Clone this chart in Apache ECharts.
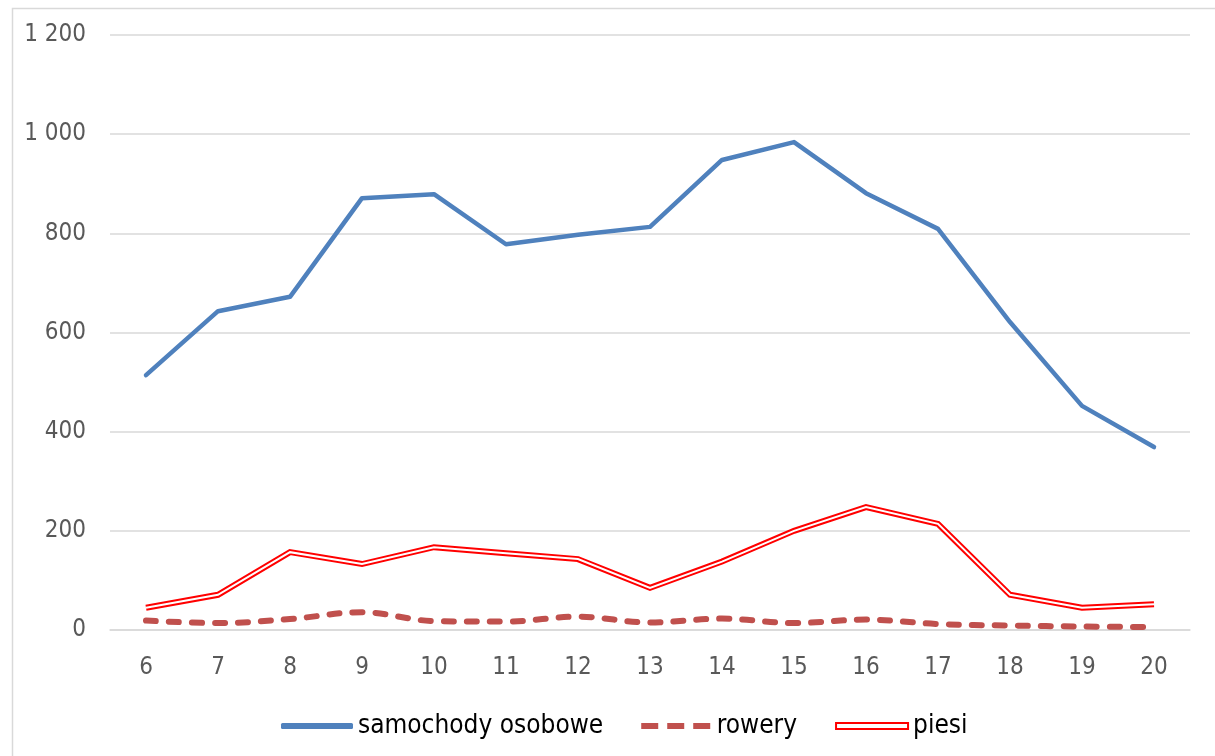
<!DOCTYPE html>
<html>
<head>
<meta charset="utf-8">
<script src="https://cdn.jsdelivr.net/npm/echarts@6/dist/echarts.min.js"></script>
<style>
html,body{margin:0;padding:0;background:#fff;}
#c{width:1215px;height:756px;}
</style>
</head>
<body>
<div id="c"></div>
<script>
const categories = ['6','7','8','9','10','11','12','13','14','15','16','17','18','19','20'];
const samochody = [514, 643, 672, 871, 879, 778, 797, 813, 948, 984, 881, 809, 621, 452, 369];
const rowery = [19, 14, 22, 36, 18, 17, 27, 15, 23, 14, 21, 12, 9, 7, 6];
const piesi = [45, 71, 157, 133, 167, 155, 143, 85, 138, 200, 248, 214, 71, 45, 52];
const yTicks = [0, 200, 400, 600, 800, 1000, 1200];

const FONT = 'DejaVu Sans Condensed';
const chart = echarts.init(document.getElementById('c'), null, {renderer: 'canvas'});
chart.setOption({
  animation: false,
  backgroundColor: '#fff',
  textStyle: {fontFamily: FONT},
  graphic: [{
    type: 'rect', left: 10, top: 6, shape: {width: 1204, height: 752},
    style: {fill: 'none', stroke: '#D9D9D9', lineWidth: 1.5}, silent: true
  }],
  grid: {left: 110, right: 25, top: 35, bottom: 126, containLabel: false},
  legend: {
    left: 276, top: 708, itemWidth: 72, itemHeight: 6, itemGap: 38,
    textStyle: {fontFamily: FONT, fontSize: 26, color: '#000'},
    data: [
      {name: 'samochody osobowe', icon: 'roundRect', itemStyle: {color: '#4F81BD'}},
      {name: 'rowery', icon: 'path://M0,0H17V6H0Z M26,0H43V6H26Z M52,0H69V6H52Z', itemStyle: {color: '#C0504D'}},
      {name: 'piesi', icon: 'rect', itemStyle: {color: '#fff', borderColor: '#FF0000', borderWidth: 2}}
    ]
  },
  xAxis: {
    type: 'category', data: categories, boundaryGap: true,
    axisLine: {lineStyle: {color: '#D9D9D9', width: 1.5}},
    axisTick: {show: false},
    axisLabel: {color: '#595959', fontSize: 24, fontFamily: FONT, margin: 26}
  },
  yAxis: {
    type: 'value', min: yTicks[0], max: yTicks[yTicks.length - 1], interval: 200,
    axisLine: {show: false}, axisTick: {show: false},
    splitLine: {lineStyle: {color: '#D9D9D9', width: 1.5}},
    axisLabel: {
      color: '#595959', fontSize: 24, fontFamily: FONT, margin: 24,
      formatter: v => String(v).replace(/\B(?=(\d{3})+(?!\d))/g, ' ')
    }
  },
  series: [
    {
      name: 'samochody osobowe', type: 'line', data: samochody, symbol: 'none',
      lineStyle: {color: '#4F81BD', width: 4.5, cap: 'round', join: 'round'},
      itemStyle: {color: '#4F81BD'}, z: 4
    },
    {
      name: 'rowery', type: 'line', data: rowery, symbol: 'none', smooth: 0.35,
      lineStyle: {color: '#C0504D', width: 6, type: [10, 13], cap: 'round', join: 'round'},
      itemStyle: {color: '#C0504D'}, z: 3
    },
    {
      name: 'piesi', type: 'line', data: piesi, symbol: 'none',
      lineStyle: {color: '#FF0000', width: 6, join: 'miter', cap: 'butt'},
      itemStyle: {color: '#FF0000'}, z: 5
    },
    {
      name: 'piesi_inner', type: 'line', data: piesi, symbol: 'none',
      lineStyle: {color: '#FFFFFF', width: 2, join: 'miter'},
      itemStyle: {color: '#FFFFFF'}, z: 6, silent: true
    }
  ]
});
</script>
</body>
</html>
